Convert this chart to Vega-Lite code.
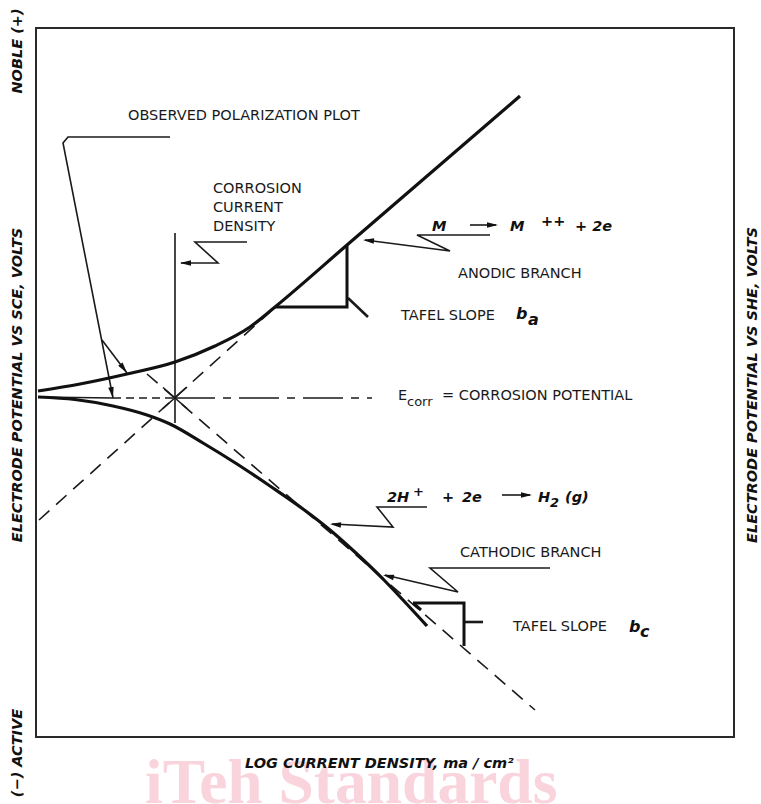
{
  "$schema": "https://vega.github.io/schema/vega-lite/v6.json",
  "width": 698,
  "height": 709,
  "autosize": {"type": "none"},
  "padding": {"left": 36, "top": 28, "right": 27, "bottom": 67},
  "background": "white",
  "config": {"view": {"stroke": "#2a2a2a", "strokeWidth": 2}},
  "datasets": {
    "curves": [
      {"id": "an", "o": 1, "x": 2, "y": 346},
      {"id": "an", "o": 2, "x": 44, "y": 353},
      {"id": "an", "o": 3, "x": 91, "y": 363},
      {"id": "an", "o": 4, "x": 139, "y": 375},
      {"id": "an", "o": 5, "x": 179, "y": 391},
      {"id": "an", "o": 6, "x": 214, "y": 410},
      {"id": "an", "o": 7, "x": 239, "y": 430},
      {"id": "an", "o": 8, "x": 311, "y": 492},
      {"id": "an", "o": 9, "x": 484, "y": 641},
      {"id": "ca", "o": 1, "x": 2, "y": 340},
      {"id": "ca", "o": 2, "x": 39, "y": 337.5},
      {"id": "ca", "o": 3, "x": 77, "y": 331},
      {"id": "ca", "o": 4, "x": 111, "y": 322},
      {"id": "ca", "o": 5, "x": 134, "y": 313},
      {"id": "ca", "o": 6, "x": 167, "y": 294},
      {"id": "ca", "o": 7, "x": 201, "y": 273},
      {"id": "ca", "o": 8, "x": 234, "y": 251},
      {"id": "ca", "o": 9, "x": 267, "y": 228},
      {"id": "ca", "o": 10, "x": 294, "y": 207},
      {"id": "ca", "o": 11, "x": 321, "y": 183},
      {"id": "ca", "o": 12, "x": 347, "y": 158},
      {"id": "ca", "o": 13, "x": 367, "y": 137},
      {"id": "ca", "o": 14, "x": 391, "y": 111}
    ],
    "lines": [
      {"id": "vl", "g": "thin", "o": 1, "x": 139, "y": 504},
      {"id": "vl", "g": "thin", "o": 2, "x": 139, "y": 314},
      {"id": "x1", "g": "thin", "o": 1, "x": 127, "y": 328.5},
      {"id": "x1", "g": "thin", "o": 2, "x": 151, "y": 350},
      {"id": "x2", "g": "thin", "o": 1, "x": 127, "y": 349.5},
      {"id": "x2", "g": "thin", "o": 2, "x": 151, "y": 328.5},
      {"id": "h0", "g": "thin", "o": 1, "x": 2, "y": 340},
      {"id": "h0", "g": "thin", "o": 2, "x": 77, "y": 339},
      {"id": "L1", "g": "thin", "o": 1, "x": 134, "y": 600},
      {"id": "L1", "g": "thin", "o": 2, "x": 32, "y": 600},
      {"id": "L1", "g": "thin", "o": 3, "x": 27, "y": 594},
      {"id": "L1", "g": "thin", "o": 4, "x": 77, "y": 339},
      {"id": "L1b", "g": "thin", "o": 1, "x": 66, "y": 397},
      {"id": "L1b", "g": "thin", "o": 2, "x": 91, "y": 364},
      {"id": "L2", "g": "thin", "o": 1, "x": 211, "y": 495},
      {"id": "L2", "g": "thin", "o": 2, "x": 159, "y": 495},
      {"id": "L2", "g": "thin", "o": 3, "x": 182, "y": 474},
      {"id": "L2", "g": "thin", "o": 4, "x": 145, "y": 474},
      {"id": "L3", "g": "thin", "o": 1, "x": 454, "y": 502},
      {"id": "L3", "g": "thin", "o": 2, "x": 381, "y": 502},
      {"id": "L3", "g": "thin", "o": 3, "x": 414, "y": 486},
      {"id": "L3", "g": "thin", "o": 4, "x": 329, "y": 497},
      {"id": "L4", "g": "thin", "o": 1, "x": 391, "y": 230},
      {"id": "L4", "g": "thin", "o": 2, "x": 341, "y": 230},
      {"id": "L4", "g": "thin", "o": 3, "x": 357, "y": 210},
      {"id": "L4", "g": "thin", "o": 4, "x": 296, "y": 213},
      {"id": "L5", "g": "thin", "o": 1, "x": 514, "y": 169},
      {"id": "L5", "g": "thin", "o": 2, "x": 394, "y": 169},
      {"id": "L5", "g": "thin", "o": 3, "x": 422, "y": 145},
      {"id": "L5", "g": "thin", "o": 4, "x": 349, "y": 162},
      {"id": "A1", "g": "thin", "o": 1, "x": 434, "y": 512},
      {"id": "A1", "g": "thin", "o": 2, "x": 460, "y": 512},
      {"id": "A2", "g": "thin", "o": 1, "x": 466, "y": 242},
      {"id": "A2", "g": "thin", "o": 2, "x": 494, "y": 242},
      {"id": "ta", "g": "thick", "o": 1, "x": 239, "y": 430},
      {"id": "ta", "g": "thick", "o": 2, "x": 311, "y": 430},
      {"id": "ta", "g": "thick", "o": 3, "x": 311, "y": 492},
      {"id": "tc", "g": "thick", "o": 1, "x": 377, "y": 134},
      {"id": "tc", "g": "thick", "o": 2, "x": 428, "y": 134},
      {"id": "tc", "g": "thick", "o": 3, "x": 428, "y": 91},
      {"id": "hk", "g": "thick", "o": 1, "x": 377, "y": 134},
      {"id": "hk", "g": "thick", "o": 2, "x": 385, "y": 127},
      {"id": "k1", "g": "tick", "o": 1, "x": 312, "y": 439},
      {"id": "k1", "g": "tick", "o": 2, "x": 332, "y": 420},
      {"id": "k2", "g": "tick", "o": 1, "x": 428, "y": 115},
      {"id": "k2", "g": "tick", "o": 2, "x": 447, "y": 115},
      {"id": "da", "g": "dash", "o": 1, "x": 3, "y": 217},
      {"id": "da", "g": "dash", "o": 2, "x": 234, "y": 425},
      {"id": "dc", "g": "dash", "o": 1, "x": 111, "y": 363},
      {"id": "dc", "g": "dash", "o": 2, "x": 499, "y": 27},
      {"id": "ec", "g": "ecorr", "o": 1, "x": 139, "y": 339},
      {"id": "ec", "g": "ecorr", "o": 2, "x": 336, "y": 339},
      {"id": "sd", "g": "sdash", "o": 1, "x": 77, "y": 339},
      {"id": "sd", "g": "sdash", "o": 2, "x": 139, "y": 339}
    ],
    "heads": [
      {"id": "h1", "x": 77, "y": 339},
      {"id": "h2", "x": 91, "y": 364},
      {"id": "h3", "x": 144, "y": 474},
      {"id": "h4", "x": 327, "y": 497},
      {"id": "h5", "x": 294, "y": 213},
      {"id": "h6", "x": 347, "y": 162},
      {"id": "h7", "x": 462, "y": 512},
      {"id": "h8", "x": 496, "y": 242}
    ],
    "labels": [
      {"g": "wm", "t": "iTeh Standards", "x": 109, "y": -66},
      {"g": "lbl", "t": "OBSERVED POLARIZATION PLOT", "x": 92, "y": 617.5},
      {"g": "lbl", "t": "CORROSION", "x": 177, "y": 544},
      {"g": "lbl", "t": "CURRENT", "x": 177, "y": 525},
      {"g": "lbl", "t": "DENSITY", "x": 177, "y": 506.5},
      {"g": "lbl", "t": "ANODIC BRANCH", "x": 422, "y": 459},
      {"g": "lbl", "t": "TAFEL SLOPE", "x": 365, "y": 417},
      {"g": "lbl", "t": "E", "x": 362, "y": 337},
      {"g": "sub", "t": "corr", "x": 371, "y": 331},
      {"g": "lbl", "t": "= CORROSION POTENTIAL", "x": 406, "y": 337},
      {"g": "lbl", "t": "CATHODIC BRANCH", "x": 424, "y": 180},
      {"g": "lbl", "t": "TAFEL SLOPE", "x": 477, "y": 106},
      {"g": "bi", "t": "M", "x": 396, "y": 506},
      {"g": "bi", "t": "M", "x": 474, "y": 506},
      {"g": "bi", "t": "++", "x": 505, "y": 511},
      {"g": "bi", "t": "+ 2e", "x": 539, "y": 506},
      {"g": "bi", "t": "2H", "x": 351, "y": 235},
      {"g": "bis", "t": "+", "x": 377, "y": 241},
      {"g": "bi", "t": "+", "x": 406, "y": 235},
      {"g": "bi", "t": "2e", "x": 426, "y": 235},
      {"g": "bi", "t": "H", "x": 502, "y": 235},
      {"g": "bis", "t": "2", "x": 514, "y": 230},
      {"g": "bi", "t": "(g)", "x": 529, "y": 235},
      {"g": "bib", "t": "b", "x": 480, "y": 418},
      {"g": "bib", "t": "a", "x": 492, "y": 412},
      {"g": "bib", "t": "b", "x": 593, "y": 105},
      {"g": "bib", "t": "c", "x": 604, "y": 100},
      {"g": "ax", "t": "NOBLE (+)", "x": -18, "y": 686},
      {"g": "ax", "t": "ELECTRODE POTENTIAL VS SCE, VOLTS", "x": -18, "y": 352},
      {"g": "ax", "t": "(−) ACTIVE", "x": -18, "y": -16},
      {"g": "ax", "t": "ELECTRODE POTENTIAL VS SHE, VOLTS", "x": 717, "y": 352},
      {"g": "axb", "t": "LOG CURRENT DENSITY, ma / cm²", "x": 209, "y": -31}
    ]
  },
  "encoding": {
    "x": {"field": "x", "type": "quantitative", "axis": null, "scale": {"domain": [0, 698], "nice": false, "zero": false}},
    "y": {"field": "y", "type": "quantitative", "axis": null, "scale": {"domain": [0, 709], "nice": false, "zero": false}}
  },
  "layer": [
    {
      "data": {"name": "labels"},
      "transform": [{"filter": "datum.g === 'wm'"}],
      "mark": {"type": "text", "font": "Liberation Serif", "fontWeight": "bold", "fontSize": 63.5, "align": "left", "baseline": "alphabetic", "color": "#f9d4dd"},
      "encoding": {"text": {"field": "t"}}
    },
    {
      "data": {"name": "lines"},
      "transform": [{"filter": "datum.g === 'dash'"}],
      "mark": {"type": "line", "strokeWidth": 1.6, "strokeDash": [14, 9], "color": "#1a1a1a"},
      "encoding": {"detail": {"field": "id"}, "order": {"field": "o", "type": "quantitative"}}
    },
    {
      "data": {"name": "lines"},
      "transform": [{"filter": "datum.g === 'ecorr'"}],
      "mark": {"type": "line", "strokeWidth": 1.6, "strokeDash": [40, 8, 8, 8], "color": "#1a1a1a"},
      "encoding": {"detail": {"field": "id"}, "order": {"field": "o", "type": "quantitative"}}
    },
    {
      "data": {"name": "lines"},
      "transform": [{"filter": "datum.g === 'sdash'"}],
      "mark": {"type": "line", "strokeWidth": 1.6, "strokeDash": [8, 5], "color": "#1a1a1a"},
      "encoding": {"detail": {"field": "id"}, "order": {"field": "o", "type": "quantitative"}}
    },
    {
      "data": {"name": "lines"},
      "transform": [{"filter": "datum.g === 'thin'"}],
      "mark": {"type": "line", "strokeWidth": 1.6, "color": "#1a1a1a"},
      "encoding": {"detail": {"field": "id"}, "order": {"field": "o", "type": "quantitative"}}
    },
    {
      "data": {"name": "lines"},
      "transform": [{"filter": "datum.g === 'tick'"}],
      "mark": {"type": "line", "strokeWidth": 2.6, "color": "#1a1a1a"},
      "encoding": {"detail": {"field": "id"}, "order": {"field": "o", "type": "quantitative"}}
    },
    {
      "data": {"name": "lines"},
      "transform": [{"filter": "datum.g === 'thick'"}],
      "mark": {"type": "line", "strokeWidth": 3, "color": "#111111", "strokeJoin": "miter"},
      "encoding": {"detail": {"field": "id"}, "order": {"field": "o", "type": "quantitative"}}
    },
    {
      "data": {"name": "curves"},
      "mark": {"type": "line", "interpolate": "monotone", "strokeWidth": 3.2, "color": "#111111"},
      "encoding": {"detail": {"field": "id"}, "order": {"field": "o", "type": "quantitative"}}
    },
    {
      "data": {"name": "heads"},
      "transform": [{"filter": "datum.id === 'h1'"}],
      "mark": {"type": "point", "shape": "M0,0L0.55,2.2L-0.55,2.2Z", "filled": true, "size": 100, "color": "#111111", "opacity": 1, "angle": 169}
    },
    {
      "data": {"name": "heads"},
      "transform": [{"filter": "datum.id === 'h2'"}],
      "mark": {"type": "point", "shape": "M0,0L0.55,2.2L-0.55,2.2Z", "filled": true, "size": 100, "color": "#111111", "opacity": 1, "angle": 143}
    },
    {
      "data": {"name": "heads"},
      "transform": [{"filter": "datum.id === 'h3'"}],
      "mark": {"type": "point", "shape": "M0,0L0.55,2.2L-0.55,2.2Z", "filled": true, "size": 100, "color": "#111111", "opacity": 1, "angle": 270}
    },
    {
      "data": {"name": "heads"},
      "transform": [{"filter": "datum.id === 'h4' || datum.id === 'h5'"}],
      "mark": {"type": "point", "shape": "M0,0L0.55,2.2L-0.55,2.2Z", "filled": true, "size": 100, "color": "#111111", "opacity": 1, "angle": 275}
    },
    {
      "data": {"name": "heads"},
      "transform": [{"filter": "datum.id === 'h6'"}],
      "mark": {"type": "point", "shape": "M0,0L0.55,2.2L-0.55,2.2Z", "filled": true, "size": 100, "color": "#111111", "opacity": 1, "angle": 283}
    },
    {
      "data": {"name": "heads"},
      "transform": [{"filter": "datum.id === 'h7' || datum.id === 'h8'"}],
      "mark": {"type": "point", "shape": "M0,0L0.55,2.2L-0.55,2.2Z", "filled": true, "size": 100, "color": "#111111", "opacity": 1, "angle": 90}
    },
    {
      "data": {"name": "labels"},
      "transform": [{"filter": "datum.g === 'lbl'"}],
      "mark": {"type": "text", "font": "DejaVu Sans", "fontSize": 14.5, "align": "left", "baseline": "alphabetic", "color": "#1a1a1a"},
      "encoding": {"text": {"field": "t"}}
    },
    {
      "data": {"name": "labels"},
      "transform": [{"filter": "datum.g === 'sub'"}],
      "mark": {"type": "text", "font": "DejaVu Sans", "fontSize": 13, "align": "left", "baseline": "alphabetic", "color": "#1a1a1a"},
      "encoding": {"text": {"field": "t"}}
    },
    {
      "data": {"name": "labels"},
      "transform": [{"filter": "datum.g === 'bi'"}],
      "mark": {"type": "text", "font": "DejaVu Sans", "fontWeight": "bold", "fontStyle": "italic", "fontSize": 14.5, "align": "left", "baseline": "alphabetic", "color": "#111111"},
      "encoding": {"text": {"field": "t"}}
    },
    {
      "data": {"name": "labels"},
      "transform": [{"filter": "datum.g === 'bis'"}],
      "mark": {"type": "text", "font": "DejaVu Sans", "fontWeight": "bold", "fontStyle": "italic", "fontSize": 13, "align": "left", "baseline": "alphabetic", "color": "#111111"},
      "encoding": {"text": {"field": "t"}}
    },
    {
      "data": {"name": "labels"},
      "transform": [{"filter": "datum.g === 'bib'"}],
      "mark": {"type": "text", "font": "DejaVu Sans", "fontWeight": "bold", "fontStyle": "italic", "fontSize": 16, "align": "left", "baseline": "alphabetic", "color": "#111111"},
      "encoding": {"text": {"field": "t"}}
    },
    {
      "data": {"name": "labels"},
      "transform": [{"filter": "datum.g === 'ax'"}],
      "mark": {"type": "text", "font": "DejaVu Sans", "fontWeight": "bold", "fontStyle": "italic", "fontSize": 14.5, "align": "center", "baseline": "middle", "angle": 270, "color": "#111111"},
      "encoding": {"text": {"field": "t"}}
    },
    {
      "data": {"name": "labels"},
      "transform": [{"filter": "datum.g === 'axb'"}],
      "mark": {"type": "text", "font": "DejaVu Sans", "fontWeight": "bold", "fontStyle": "italic", "fontSize": 14.5, "align": "left", "baseline": "alphabetic", "color": "#111111"},
      "encoding": {"text": {"field": "t"}}
    }
  ]
}
